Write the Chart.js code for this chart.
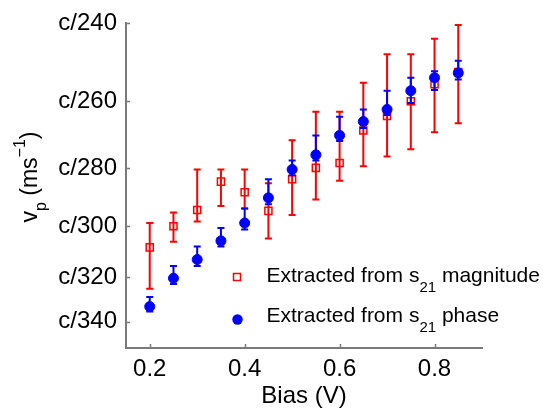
<!DOCTYPE html>
<html>
<head>
<meta charset="utf-8">
<script src="https://cdn.jsdelivr.net/npm/chart.js@4.4.0/dist/chart.umd.min.js"></script>
<style>
  html, body { margin: 0; padding: 0; background: #fff; }
  #wrap { width: 555px; height: 411px; }
</style>
</head>
<body>
<div id="wrap"><canvas id="chart" width="555" height="411"></canvas></div>
<script>
// Bias (V)
const bias = [0.2, 0.25, 0.3, 0.35, 0.4, 0.45, 0.5, 0.55, 0.6, 0.65, 0.7, 0.75, 0.8, 0.85];

// phase velocity, in 1e6 m/s (c = 300e6 m/s)
const magV  = [0.974, 1.000, 1.020, 1.055, 1.042, 1.019, 1.058, 1.072, 1.078, 1.118, 1.136, 1.154, 1.175, 1.190];
const magHi = [1.004, 1.017, 1.070, 1.070, 1.070, 1.053, 1.106, 1.141, 1.141, 1.177, 1.212, 1.212, 1.231, 1.248];
const magLo = [0.923, 0.981, 1.006, 1.025, 1.022, 0.985, 1.014, 1.033, 1.056, 1.074, 1.086, 1.095, 1.116, 1.127];

const phaseV  = [0.901, 0.936, 0.959, 0.982, 1.004, 1.035, 1.070, 1.088, 1.112, 1.129, 1.144, 1.167, 1.183, 1.189];
const phaseHi = [0.913, 0.951, 0.975, 0.998, 1.022, 1.058, 1.081, 1.112, 1.135, 1.144, 1.167, 1.183, 1.191, 1.204];
const phaseLo = [0.895, 0.929, 0.951, 0.975, 0.996, 1.027, 1.063, 1.081, 1.105, 1.121, 1.137, 1.152, 1.168, 1.181];

// y ticks are c/n
const C = 300;
const yTickN = [240, 250, 260, 270, 280, 290, 300, 310, 320, 330, 340, 350];
const xTicks = [0.2, 0.4, 0.6, 0.8];

const FONT = '"Liberation Sans", Arial, Helvetica, sans-serif';
const AXIS_GRAY = "#7a7a7a";

// error bars under each dataset's markers
const errorBars = {
    id: "errorBars",
    beforeDatasetDraw(chart, args) {
        const ds = chart.data.datasets[args.index];
        if (!ds.errLo) return;
        const ctx = chart.ctx;
        const xs = chart.scales.x, ys = chart.scales.y;
        ctx.save();
        ctx.strokeStyle = ds.borderColor;
        ctx.lineWidth = 2;
        ctx.beginPath();
        for (let i = 0; i < ds.data.length; i++) {
            let x = xs.getPixelForValue(ds.data[i].x);
            let yHi = ys.getPixelForValue(ds.errHi[i]);
            let yLo = ys.getPixelForValue(ds.errLo[i]);
            ctx.moveTo(x, yHi); ctx.lineTo(x, yLo);
            ctx.moveTo(x - 3.5, yHi); ctx.lineTo(x + 3.5, yHi);
            ctx.moveTo(x - 3.5, yLo); ctx.lineTo(x + 3.5, yLo);
        }
        ctx.stroke();
        ctx.restore();
    }
};

// inward ticks (matlab style)
const inwardTicks = {
    id: "inwardTicks",
    afterDraw(chart) {
        const ctx = chart.ctx;
        const xs = chart.scales.x, ys = chart.scales.y;
        const a = chart.chartArea;
        ctx.save();
        ctx.strokeStyle = AXIS_GRAY;
        ctx.lineWidth = 1.5;
        ctx.beginPath();
        ys.ticks.forEach(t => {
            let y = Math.round(ys.getPixelForValue(t.value)) + 0.5;
            ctx.moveTo(a.left, y); ctx.lineTo(a.left + 4, y);
        });
        xs.ticks.forEach(t => {
            let x = Math.round(xs.getPixelForValue(t.value)) + 0.5;
            ctx.moveTo(x, a.bottom); ctx.lineTo(x, a.bottom - 4);
        });
        ctx.stroke();
        ctx.restore();
    }
};

// text with sub/superscripts: pieces [text, size, shift]
function drawRich(ctx, pieces, x, y) {
    pieces.forEach(p => {
        ctx.font = p[1] + "px " + FONT;
        ctx.fillText(p[0], x, y + p[2]);
        x += ctx.measureText(p[0]).width;
    });
}
function richWidth(ctx, pieces) {
    let w = 0;
    pieces.forEach(p => { ctx.font = p[1] + "px " + FONT; w += ctx.measureText(p[0]).width; });
    return w;
}

const yTitleAndLegend = {
    id: "yTitleAndLegend",
    afterDraw(chart) {
        const ctx = chart.ctx;
        ctx.save();
        ctx.fillStyle = "#000";
        ctx.textBaseline = "alphabetic";
        ctx.textAlign = "left";

        // y axis title, rotated
        const title = [["v", 23, 0], ["p", 16, 9], [" (ms", 23, 0], ["\u22121", 16, -12], [")", 23, 0]];
        let w = richWidth(ctx, title);
        ctx.save();
        ctx.translate(37, 177);
        ctx.rotate(-Math.PI / 2);
        drawRich(ctx, title, -w / 2, 0);
        ctx.restore();

        // legend
        ctx.strokeStyle = "#ff0000";
        ctx.lineWidth = 1.5;
        ctx.strokeRect(233.5, 273.5, 7, 7);
        ctx.fillStyle = "#0000ff";
        ctx.beginPath();
        ctx.arc(237.5, 319.5, 5.2, 0, Math.PI * 2);
        ctx.fill();
        ctx.fillStyle = "#000";
        drawRich(ctx, [["Extracted from s", 21, 0], ["21", 15, 10], [" magnitude", 21, 0]], 266.5, 281.5);
        drawRich(ctx, [["Extracted from s", 21, 0], ["21", 15, 10], [" phase", 21, 0]], 266.5, 322);
        ctx.restore();
    }
};

const chart = new Chart(document.getElementById("chart").getContext("2d"), {
    type: "scatter",
    data: {
        datasets: [{
            label: "Extracted from s21 magnitude",
            data: bias.map((b, i) => ({ x: b, y: magV[i] })),
            errHi: magHi,
            errLo: magLo,
            borderColor: "#ff0000",
            backgroundColor: "rgba(0,0,0,0)",
            pointStyle: "rect",
            pointRadius: 5,
            pointBorderWidth: 1.5,
            order: 2
        }, {
            label: "Extracted from s21 phase",
            data: bias.map((b, i) => ({ x: b, y: phaseV[i] })),
            errHi: phaseHi,
            errLo: phaseLo,
            borderColor: "#0000ff",
            backgroundColor: "#0000ff",
            pointStyle: "circle",
            pointRadius: 5,
            pointBorderWidth: 1,
            order: 1
        }]
    },
    options: {
        responsive: false,
        animation: false,
        devicePixelRatio: 1,
        layout: { padding: { top: 19, right: 73, left: 0, bottom: 0 } },
        plugins: {
            legend: { display: false },
            tooltip: { enabled: false }
        },
        scales: {
            x: {
                type: "linear",
                min: 0.15,
                max: 0.9,
                afterBuildTicks: s => { s.ticks = xTicks.map(v => ({ value: v })); },
                afterFit: s => { s.height = 63; },
                grid: { display: true, drawOnChartArea: false, drawTicks: false },
                border: { display: true, color: AXIS_GRAY, width: 2 },
                ticks: {
                    color: "#000",
                    font: { family: FONT, size: 24 },
                    padding: 7,
                    maxRotation: 0,
                    callback: v => String(v)
                },
                title: {
                    display: true,
                    text: "Bias (V)",
                    color: "#000",
                    font: { family: FONT, size: 24 },
                    padding: { top: 0, bottom: 0 }
                }
            },
            y: {
                type: "linear",
                min: 0.85,
                max: 1.25,
                afterBuildTicks: s => { s.ticks = yTickN.map(n => ({ value: C / n, n: n })); },
                afterFit: s => { s.width = 126; },
                grid: { display: true, drawOnChartArea: false, drawTicks: false },
                border: { display: true, color: AXIS_GRAY, width: 2 },
                ticks: {
                    color: "#000",
                    font: { family: FONT, size: 24 },
                    padding: 9,
                    callback: function (v, i) {
                        let n = yTickN[i];
                        return n % 20 === 0 ? "c/" + n : "";
                    }
                }
            }
        }
    },
    plugins: [errorBars, inwardTicks, yTitleAndLegend]
});
</script>
</body>
</html>
